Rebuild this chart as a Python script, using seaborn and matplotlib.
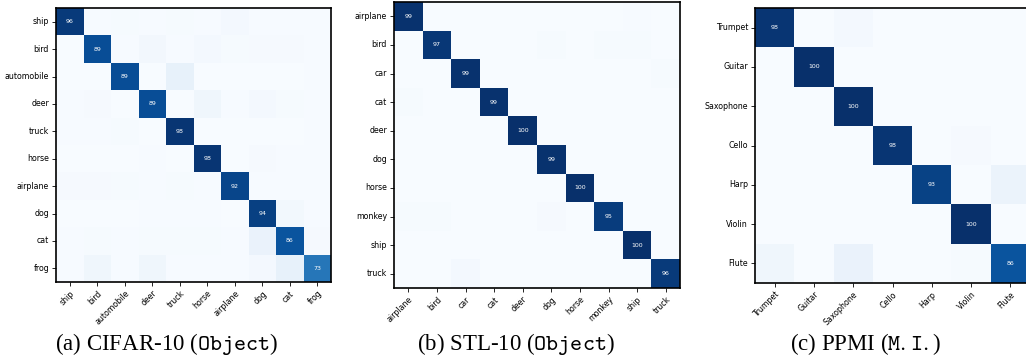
import numpy as np
import pandas as pd
import matplotlib
matplotlib.use("Agg")
import matplotlib.pyplot as plt
import seaborn as sns

plt.rcParams['mathtext.fontset'] = 'cm'

# CIFAR-10 confusion matrix (row = true class, %)
cifar_labels = ["ship", "bird", "automobile", "deer", "truck",
                "horse", "airplane", "dog", "cat", "frog"]
cifar_cm = [
    [96, 0.5, 1, 0.5, 1, 0.5, 2, 0.5, 0.5, 0.5],
    [0.3, 89, 0.5, 3, 0.5, 2, 1, 1.5, 1.5, 0.5],
    [0.3, 0.3, 89, 0.3, 8, 0.3, 0.3, 0.3, 0.3, 0.5],
    [0.5, 1.5, 0.3, 89, 0.3, 4, 0.5, 2, 1, 0.5],
    [0.5, 0.5, 1, 0.3, 98, 0.3, 0.3, 0.3, 0.3, 0.5],
    [0.3, 0.3, 0.3, 0.5, 0.3, 98, 0.3, 1.5, 0.5, 0.5],
    [1.5, 1.5, 1, 0.5, 1, 0.5, 92, 0.5, 0.5, 0.5],
    [0.3, 0.3, 0.3, 0.5, 0.5, 0.5, 0.3, 94, 2.5, 0.5],
    [0.5, 1, 0.5, 1, 1, 1, 0.5, 7, 86, 1.5],
    [0.5, 4, 0.5, 4, 0.5, 0.5, 0.5, 2, 8, 73],
]

# STL-10 confusion matrix
stl_labels = ["airplane", "bird", "car", "cat", "deer",
              "dog", "horse", "monkey", "ship", "truck"]
stl_cm = [
    [99, 0.2, 0.2, 0.2, 0.2, 0.2, 0.2, 0.2, 0.5, 0.2],
    [0.2, 97, 0.2, 0.2, 0.2, 1, 0.2, 0.8, 0.8, 0.2],
    [0.2, 0.2, 99, 0.2, 0.2, 0.2, 0.2, 0.2, 0.2, 0.8],
    [0.8, 0.2, 0.2, 99, 0.2, 0.2, 0.2, 0.2, 0.2, 0.2],
    [0.2, 0.2, 0.2, 0.2, 100, 0.2, 0.2, 0.2, 0.2, 0.2],
    [0.2, 0.2, 0.2, 0.2, 0.2, 99, 0.2, 0.2, 0.2, 0.2],
    [0.2, 0.2, 0.2, 0.2, 0.2, 0.2, 100, 0.2, 0.2, 0.2],
    [1, 1, 0.2, 0.2, 0.2, 1.5, 0.2, 95, 0.2, 0.2],
    [0.2, 0.2, 0.2, 0.2, 0.2, 0.2, 0.2, 0.2, 100, 0.2],
    [0.2, 0.2, 2, 0.2, 0.2, 0.2, 0.2, 0.2, 0.2, 96],
]

# PPMI confusion matrix
ppmi_labels = ["Trumpet", "Guitar", "Saxophone", "Cello", "Harp", "Violin", "Flute"]
ppmi_cm = [
    [98, 0.2, 2, 0.2, 0.2, 0.2, 0.2],
    [0.2, 100, 0.2, 0.2, 0.2, 0.2, 0.2],
    [0.2, 0.2, 100, 0.2, 0.2, 0.2, 0.2],
    [0.2, 0.2, 0.2, 98, 0.2, 1.5, 0.2],
    [0.2, 0.2, 0.2, 0.2, 93, 0.2, 6],
    [0.2, 0.2, 0.2, 0.2, 0.2, 100, 0.2],
    [4, 0.2, 7, 0.2, 0.2, 1, 86],
]

captions = [r"(a) CIFAR-10 ($\mathtt{Object}$)",
            r"(b) STL-10 ($\mathtt{Object}$)",
            r"(c) PPMI ($\mathtt{M.I.}$)"]

W, H = 1026, 362
fig = plt.figure(figsize=(W / 100, H / 100), dpi=100)

# axes boxes in pixels: left, top, right, bottom, caption centre
boxes = [(56, 8, 331, 282, 167), (394, 2, 680, 288, 516), (755, 8, 1030, 283, 866)]
panels = [(cifar_labels, cifar_cm), (stl_labels, stl_cm), (ppmi_labels, ppmi_cm)]

for (labels, cm), (l, t, r, b, cx), cap in zip(panels, boxes, captions):
    ax = fig.add_axes([l / W, 1 - b / H, (r - l) / W, (b - t) / H])
    df = pd.DataFrame(cm, index=labels, columns=labels)
    annot = np.where(np.eye(len(labels), dtype=bool),
                     df.round().astype(int).astype(str).values, "")
    sns.heatmap(df, cmap="Blues", vmin=0, vmax=100, cbar=False,
                annot=annot, fmt="", annot_kws={"fontsize": 4.5},
                ax=ax)
    for s in ax.spines.values():
        s.set_visible(True)
        s.set_linewidth(1.2)
        s.set_color("black")
    ax.tick_params(axis="both", length=3, width=0.6, labelsize=5.7, pad=2)
    ax.set_xticklabels(labels, rotation=45, ha="right", rotation_mode="anchor")
    ax.set_yticklabels(labels, rotation=0)
    ax.set_xlabel("")
    ax.set_ylabel("")
    fig.text(cx / W, 1 - 344 / H, cap,
             ha="center", va="center", fontsize=16.5, family="Liberation Serif")

fig.savefig("out.png", dpi=100)
